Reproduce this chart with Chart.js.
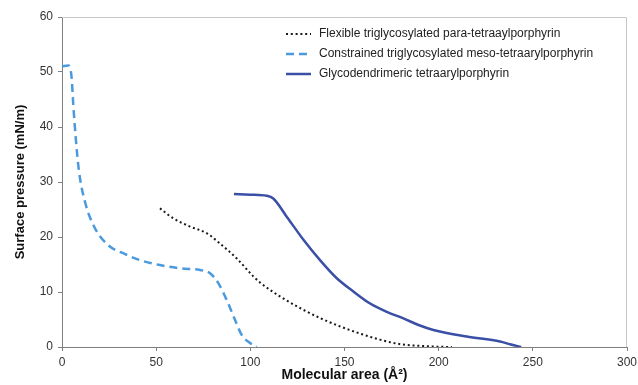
<!DOCTYPE html>
<html>
<head>
<meta charset="utf-8">
<script src="https://cdn.jsdelivr.net/npm/chart.js@4/dist/chart.umd.min.js"></script>
<style>
  html, body { margin: 0; padding: 0; background: #fff; }
  #wrap { width: 638px; height: 385px; }
</style>
</head>
<body>
<div id="wrap"><canvas id="isotherm" width="638" height="385"></canvas></div>
<script>
// Series labels
const seriesNames = [
  "Flexible triglycosylated para-tetraaylporphyrin",
  "Constrained triglycosylated meso-tetraarylporphyrin",
  "Glycodendrimeric tetraarylporphyrin",
];

// Flexible (dotted black)
const flexibleArea = [52, 59.1, 68, 76.8, 83.9, 92.8, 101.7, 105.6, 116.2, 126.8, 137.4, 148, 158.6, 169.2, 179.8, 190.4, 200, 207];
const flexiblePressure = [25.2, 23.4, 21.9, 20.7, 18.8, 16.1, 12.8, 11.6, 9.1, 7.0, 5.2, 3.7, 2.4, 1.3, 0.5, 0.2, 0.05, 0];

// Constrained (dashed light blue)
const constrainedArea = [0, 3.4, 5.1, 6, 7.3, 9, 12.2, 17.5, 24.6, 33.5, 41.4, 52, 62.7, 73.3, 78.6, 83, 87.5, 91.9, 95.4, 99.5, 103.4];
const constrainedPressure = [51, 51.2, 49, 44, 38, 32, 26.4, 21.6, 18.5, 16.9, 15.8, 14.9, 14.3, 14.0, 13.4, 11.6, 8.5, 4.9, 2.2, 0.8, 0];

// Glycodendrimeric (solid navy)
const glycoArea = [91.3, 100, 108.7, 112.2, 119.3, 128.2, 137, 145.9, 154.7, 163.6, 172.5, 181.3, 189.3, 197.2, 214.9, 232.6, 237.9, 243.8];
const glycoPressure = [27.8, 27.7, 27.5, 27.0, 23.7, 19.5, 15.8, 12.5, 10.1, 7.9, 6.4, 5.2, 4.0, 3.1, 1.9, 1.0, 0.5, 0];

// Axis ranges / ticks
const xTicks = [0, 50, 100, 150, 200, 250, 300];
const yTicks = [0, 10, 20, 30, 40, 50, 60];

function toPoints(xs, ys) {
  return xs.map((x, i) => ({ x: x, y: ys[i] }));
}

// light frame on top/right of the plot
const framePlugin = {
  id: "frame",
  beforeDatasetsDraw(chart) {
    const { ctx, chartArea: a } = chart;
    ctx.save();
    ctx.strokeStyle = "#c8c8c8";
    ctx.lineWidth = 1;
    ctx.beginPath();
    ctx.moveTo(a.left, a.top + 0.5);
    ctx.lineTo(a.right - 0.5, a.top + 0.5);
    ctx.lineTo(a.right - 0.5, a.bottom);
    ctx.stroke();
    ctx.restore();
  },
};

// legend drawn inside plot, top right
const legendPlugin = {
  id: "insideLegend",
  afterDatasetsDraw(chart) {
    const { ctx, chartArea: a } = chart;
    const x0 = a.right - 341;
    const y0 = a.top + 17;
    ctx.save();
    ctx.font = "12px 'Liberation Sans', Arial, sans-serif";
    ctx.textBaseline = "middle";
    chart.data.datasets.forEach((ds, i) => {
      const y = y0 + i * 20;
      ctx.strokeStyle = ds.borderColor;
      ctx.lineWidth = ds.borderWidth;
      ctx.setLineDash(ds.borderDash || []);
      ctx.beginPath();
      ctx.moveTo(x0, y);
      ctx.lineTo(x0 + 25, y);
      ctx.stroke();
      ctx.setLineDash([]);
      ctx.fillStyle = "#222";
      ctx.fillText(ds.label, x0 + 33, y);
    });
    ctx.restore();
  },
};

const ctx = document.getElementById("isotherm").getContext("2d");

new Chart(ctx, {
  type: "scatter",
  data: {
    datasets: [
      {
        label: seriesNames[0],
        data: toPoints(flexibleArea, flexiblePressure),
        showLine: true,
        borderColor: "#1a1a1a",
        borderWidth: 2,
        borderDash: [2, 2.8],
        pointRadius: 0,
        cubicInterpolationMode: "monotone",
      },
      {
        label: seriesNames[1],
        data: toPoints(constrainedArea, constrainedPressure),
        showLine: true,
        borderColor: "#4b9ade",
        borderWidth: 2.5,
        borderDash: [8, 5],
        pointRadius: 0,
        cubicInterpolationMode: "monotone",
      },
      {
        label: seriesNames[2],
        data: toPoints(glycoArea, glycoPressure),
        showLine: true,
        borderColor: "#3a4fa6",
        borderWidth: 2.5,
        pointRadius: 0,
        cubicInterpolationMode: "monotone",
      },
    ],
  },
  options: {
    responsive: false,
    devicePixelRatio: 1,
    animation: false,
    layout: { padding: { top: 17, right: 11, left: 0, bottom: 0 } },
    plugins: {
      legend: { display: false },
      tooltip: { enabled: false },
    },
    scales: {
      x: {
        type: "linear",
        min: xTicks[0],
        max: xTicks[xTicks.length - 1],
        afterFit: (scale) => {
          scale.height = 38;
          scale.paddingLeft = 0;
          scale.paddingRight = 0;
        },
        afterBuildTicks: (scale) => { scale.ticks = xTicks.map((v) => ({ value: v })); },
        ticks: {
          padding: 4,
          color: "#333",
          font: { family: "'Liberation Sans', Arial, sans-serif", size: 12 },
        },
        grid: { drawOnChartArea: false, tickLength: 4, color: "#808080" },
        border: { color: "#808080" },
        title: {
          display: true,
          text: "Molecular area (Å²)",
          color: "#111",
          font: { family: "'Liberation Sans', Arial, sans-serif", size: 14, weight: "bold" },
          padding: { top: 0, bottom: 1 },
        },
      },
      y: {
        type: "linear",
        min: yTicks[0],
        max: yTicks[yTicks.length - 1],
        afterFit: (scale) => { scale.width = 62; },
        afterBuildTicks: (scale) => { scale.ticks = yTicks.map((v) => ({ value: v })); },
        ticks: {
          padding: 5,
          color: "#333",
          font: { family: "'Liberation Sans', Arial, sans-serif", size: 12 },
        },
        grid: { drawOnChartArea: false, tickLength: 4, color: "#808080" },
        border: { color: "#808080" },
        title: {
          display: true,
          text: "Surface pressure (mN/m)",
          color: "#111",
          font: { family: "'Liberation Sans', Arial, sans-serif", size: 13, weight: "bold" },
          padding: { top: 13, bottom: 0 },
        },
      },
    },
  },
  plugins: [framePlugin, legendPlugin],
});
</script>
</body>
</html>
